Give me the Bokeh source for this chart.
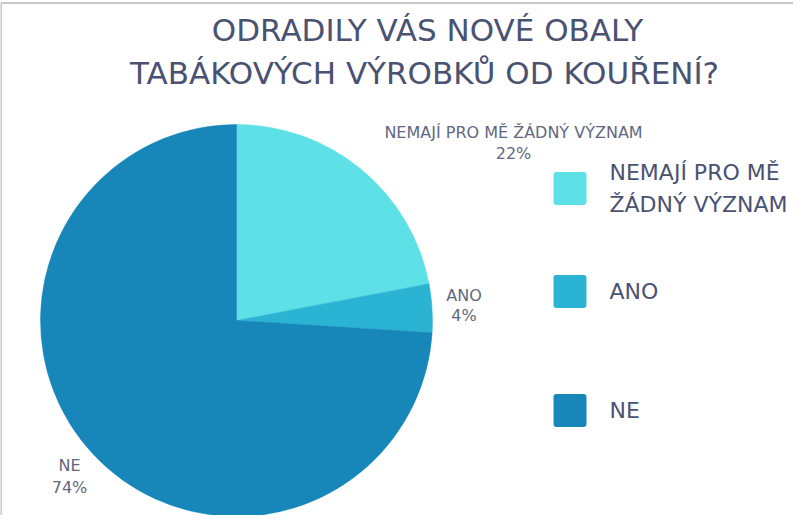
from bokeh.plotting import figure
from bokeh.models import Range1d, ColumnDataSource
from bokeh.embed import file_html
from bokeh.resources import INLINE
from bokeh.core.properties import value
import math

# ---- data ----
categories = ["NEMAJÍ PRO MĚ ŽÁDNÝ VÝZNAM", "ANO", "NE"]
legend_labels = ["NEMAJÍ PRO MĚ\nŽÁDNÝ VÝZNAM", "ANO", "NE"]
values = [22, 4, 74]
colors = ["#5de1e6", "#2bb3d4", "#1787ba"]
title_lines = ["ODRADILY VÁS NOVÉ OBALY", "TABÁKOVÝCH VÝROBKŮ OD KOUŘENÍ?"]

FONT = value("DejaVu Sans")
TITLE_COLOR = "#4a5272"
LABEL_COLOR = "#62677f"

W, H = 793, 515
p = figure(width=W, height=H, x_range=Range1d(0, W), y_range=Range1d(0, H),
           output_backend="svg", toolbar_location=None,
           x_axis_location=None, y_axis_location=None, min_border=0)
p.grid.visible = False
p.outline_line_color = None
p.background_fill_color = "white"
p.border_fill_color = "white"

# frame border (top and left visible)
p.line(x=[0.5, 0.5, W], y=[0, H - 2.5, H - 2.5], line_color="#c8c8c8", line_width=2)

# ---- pie ----
total = sum(values)
starts, ends = [], []
cum = 0.0
for v in values:
    starts.append(math.pi / 2 - 2 * math.pi * cum / total)
    cum += v
    ends.append(math.pi / 2 - 2 * math.pi * cum / total)

cx, cy, r = 236, 195, 196
src = ColumnDataSource(dict(start=starts, end=ends, color=colors, cat=categories, val=values))
p.wedge(x=cx, y=cy, radius=r, start_angle="start", end_angle="end", direction="clock",
        fill_color="color", line_color="color", line_width=0.5, source=src)

# ---- slice labels ----
lab_x = [513, 463.5, 69]
lab_y1 = [383.5, 220.5, 50.5]
lab_y2 = [362.5, 200.5, 28.5]
lsrc = ColumnDataSource(dict(x=lab_x, y1=lab_y1, y2=lab_y2, name=categories,
                             pct=[f"{v}%" for v in values]))
p.text(x="x", y="y1", text="name", source=lsrc, text_font=FONT, text_font_size="16px",
       text_color=LABEL_COLOR, text_align="center", text_baseline="alphabetic")
p.text(x="x", y="y2", text="pct", source=lsrc, text_font=FONT, text_font_size="16px",
       text_color=LABEL_COLOR, text_align="center", text_baseline="alphabetic")

# ---- legend ----
leg_y = [327, 224, 105]
gsrc = ColumnDataSource(dict(x=[569.5] * 3, y=leg_y, color=colors, label=legend_labels,
                             tx=[609] * 3))
p.rect(x="x", y="y", width=33, height=33, fill_color="color", line_color=None,
       border_radius=3, source=gsrc)
p.text(x="tx", y="y", text="label", source=gsrc, text_font=FONT, text_font_size="22px",
       text_color=TITLE_COLOR, text_align="left", text_baseline="middle",
       text_line_height=1.3)

# ---- title ----
tsrc = ColumnDataSource(dict(x=[427, 424], y=[486, 443], text=title_lines))
p.text(x="x", y="y", text="text", source=tsrc, text_font=FONT, text_font_size="31px",
       text_color=TITLE_COLOR, text_align="center", text_baseline="alphabetic")

open("out.html", "w").write(file_html(p, INLINE))
